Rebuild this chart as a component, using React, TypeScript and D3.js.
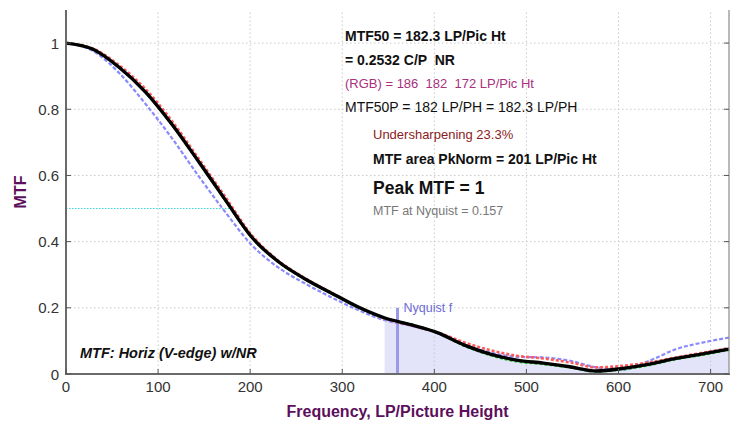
import React from "react";
import * as d3 from "d3";

const freqs = [0, 28.8, 57.6, 86.4, 115.2, 144, 172.8, 201.6, 230.4, 259.2, 288, 316.8, 345.6, 374.4, 403.2, 432, 460.8, 489.6, 518.4, 547.2, 576, 604.8, 633.6, 662.4, 691.2, 720];
const mtfY = [1.0, 0.982, 0.927, 0.852, 0.754, 0.642, 0.527, 0.414, 0.34, 0.288, 0.245, 0.203, 0.17, 0.149, 0.125, 0.088, 0.06, 0.042, 0.033, 0.022, 0.009, 0.017, 0.03, 0.047, 0.061, 0.075];
const mtfR = [1.0, 0.984, 0.933, 0.861, 0.764, 0.651, 0.536, 0.42, 0.343, 0.29, 0.246, 0.203, 0.168, 0.147, 0.126, 0.096, 0.072, 0.055, 0.047, 0.035, 0.02, 0.025, 0.035, 0.05, 0.064, 0.078];
const mtfG = [1.0, 0.982, 0.926, 0.851, 0.753, 0.641, 0.526, 0.413, 0.339, 0.287, 0.244, 0.202, 0.169, 0.15, 0.125, 0.086, 0.057, 0.038, 0.03, 0.02, 0.008, 0.014, 0.027, 0.045, 0.058, 0.073];
const mtfB = [1.0, 0.977, 0.91, 0.816, 0.712, 0.598, 0.49, 0.39, 0.322, 0.274, 0.232, 0.194, 0.163, 0.146, 0.124, 0.09, 0.065, 0.052, 0.05, 0.04, 0.02, 0.013, 0.04, 0.075, 0.095, 0.11];
const xTicks = [0, 100, 200, 300, 400, 500, 600, 700];
const yTicks = [0, 0.2, 0.4, 0.6, 0.8, 1];
const yTickLabels = ["0", "0.2", "0.4", "0.6", "0.8", "1"];
const nyquist = 360;
const shadeStart = 346;
const nyquistMTF = 0.2;
const mtf50Level = 0.5;

const annotations = [
  { text: "MTF50 = 182.3 LP/Pic Ht", color: "#111", weight: "bold", size: 14, dx: 0, line: 0 },
  { text: "= 0.2532 C/P  NR", color: "#111", weight: "bold", size: 14, dx: 0, line: 1 },
  { text: "(RGB) = 186  182  172 LP/Pic Ht", color: "#a8307e", weight: "normal", size: 13, dx: 0, line: 2 },
  { text: "MTF50P = 182 LP/PH = 182.3 LP/PH", color: "#111", weight: "normal", size: 14, dx: 0, line: 3 },
  { text: "Undersharpening 23.3%", color: "#8b1c1c", weight: "normal", size: 13, dx: 1, line: 4 },
  { text: "MTF area PkNorm = 201 LP/Pic Ht", color: "#111", weight: "bold", size: 14, dx: 1, line: 5 },
  { text: "Peak MTF = 1", color: "#111", weight: "bold", size: 17.5, dx: 1, line: 6 },
  { text: "MTF at Nyquist = 0.157", color: "#777", weight: "normal", size: 12.5, dx: 1, line: 7 },
];
const annBaselines = [41, 65, 88, 112, 139, 164, 194, 215];

const W = 734, H = 424;
const L = 66, R = 729, T = 10, B = 374;
const font = "'Liberation Sans', Arial, Helvetica, sans-serif";

export default function App() {
  const x = d3.scaleLinear().domain([0, 720]).range([L, R]);
  const y = d3.scaleLinear().domain([0, 1.1]).range([B, T]);
  const pts = (vals: number[]) => freqs.map((f, i) => [f, vals[i]] as [number, number]);
  const line = d3.line<[number, number]>().x(d => x(d[0])).y(d => y(d[1])).curve(d3.curveMonotoneX);

  const interp = (f: number) => {
    for (let i = 0; i < freqs.length - 1; i++) {
      if (f >= freqs[i] && f <= freqs[i + 1]) {
        const t = (f - freqs[i]) / (freqs[i + 1] - freqs[i]);
        return mtfY[i] + t * (mtfY[i + 1] - mtfY[i]);
      }
    }
    return mtfY[mtfY.length - 1];
  };
  const shadePts: [number, number][] = [[shadeStart, interp(shadeStart)], ...pts(mtfY).filter(p => p[0] > shadeStart)];
  const area = d3.area<[number, number]>().x(d => x(d[0])).y0(y(0)).y1(d => y(d[1])).curve(d3.curveMonotoneX);

  const ann0x = 345, ann1x = 373;

  return (
    <svg width={W} height={H} style={{ position: "absolute", left: 0, top: 0, background: "#fff" }} fontFamily={font}>
      <rect x={0} y={0} width={W} height={H} fill="#fff" />
      <path d={area(shadePts) || ""} fill="#e3e3fa" />
      {xTicks.filter(t => t > 0).map(t => (
        <line key={"gx" + t} x1={x(t)} x2={x(t)} y1={B} y2={T} stroke="#c8c8c8" strokeWidth={1} strokeDasharray="1.5,2.5" />
      ))}
      {yTicks.filter(t => t > 0).map(t => (
        <line key={"gy" + t} x1={L} x2={R} y1={y(t)} y2={y(t)} stroke="#c8c8c8" strokeWidth={1} strokeDasharray="1.5,2.5" />
      ))}
      <line x1={L} x2={x(182)} y1={y(mtf50Level)} y2={y(mtf50Level)} stroke="#30d8d8" strokeWidth={1} strokeDasharray="1.5,1.5" />
      <line x1={x(nyquist)} x2={x(nyquist)} y1={y(0)} y2={y(nyquistMTF)} stroke="#9a9ae8" strokeWidth={3} />
      <text x={x(nyquist) + 6} y={y(nyquistMTF) + 4} fontSize={12.5} fill="#6b6bd6">Nyquist f</text>
      <path d={line(pts(mtfB)) || ""} fill="none" stroke="#8a8aff" strokeWidth={2.2} strokeDasharray="4,2" />
      <path d={line(pts(mtfR)) || ""} fill="none" stroke="#ff5a5a" strokeWidth={2.6} strokeDasharray="3,2" />
      <path d={line(pts(mtfG)) || ""} fill="none" stroke="#10c010" strokeWidth={2.4} strokeDasharray="3,2" />
      <path d={line(pts(mtfY)) || ""} fill="none" stroke="#000" strokeWidth={3.4} strokeLinejoin="round" />
      <line x1={L} x2={L} y1={T} y2={B + 1} stroke="#6a6a6a" strokeWidth={2} />
      <line x1={L - 1} x2={R + 1} y1={B} y2={B} stroke="#6a6a6a" strokeWidth={2} />
      <line x1={R} x2={R} y1={T} y2={B} stroke="#8a8a8a" strokeWidth={1.2} />
      {xTicks.map(t => (
        <line key={"tx" + t} x1={x(t)} x2={x(t)} y1={B} y2={B - 5} stroke="#555" strokeWidth={1} />
      ))}
      {yTicks.map(t => (
        <g key={"ty" + t}>
          <line x1={L} x2={L + 5} y1={y(t)} y2={y(t)} stroke="#555" strokeWidth={1} />
          <line x1={R} x2={R - 5} y1={y(t)} y2={y(t)} stroke="#555" strokeWidth={1} />
        </g>
      ))}
      {xTicks.map(t => (
        <text key={"lx" + t} x={x(t)} y={B + 18} fontSize={15} fill="#333" textAnchor="middle">{t}</text>
      ))}
      {yTicks.map((t, i) => (
        <text key={"ly" + t} x={L - 7} y={y(t) + 5.5} fontSize={15} fill="#333" textAnchor="end">{yTickLabels[i]}</text>
      ))}
      <text x={(L + R) / 2} y={417} fontSize={16} fontWeight="bold" fill="#5c0f5c" textAnchor="middle">Frequency, LP/Picture Height</text>
      <text transform={`translate(26, ${(T + B) / 2}) rotate(-90)`} fontSize={16} fontWeight="bold" fill="#5c0f5c" textAnchor="middle">MTF</text>
      {annotations.map((a, i) => (
        <text key={"an" + i} x={a.dx ? ann1x : ann0x} y={annBaselines[a.line]} fontSize={a.size} fontWeight={a.weight} fill={a.color} style={{ whiteSpace: "pre" }}>{a.text}</text>
      ))}
      <text x={80} y={358} fontSize={14.5} fontWeight="bold" fontStyle="italic" fill="#111">MTF: Horiz (V-edge) w/NR</text>
    </svg>
  );
}
